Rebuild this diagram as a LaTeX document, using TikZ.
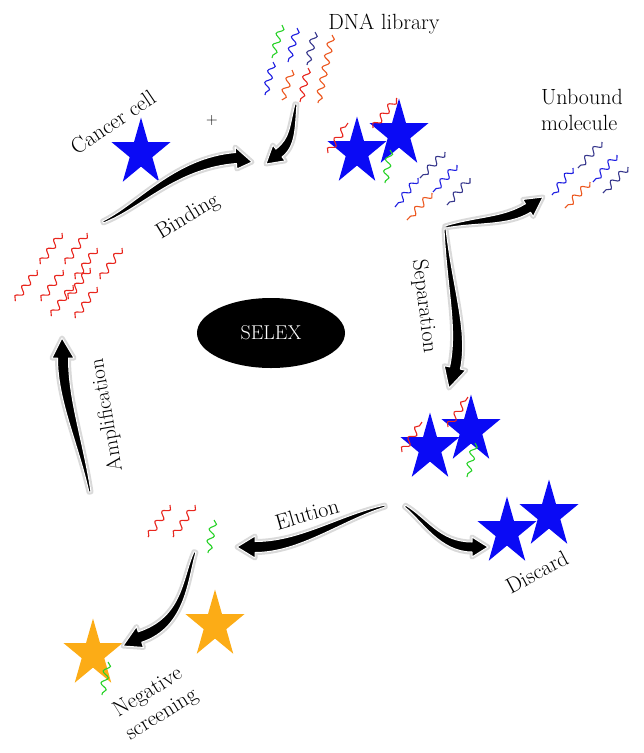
\documentclass[tikz,border=0pt]{standalone}
\usepackage{tikz}
\usetikzlibrary{calc,decorations.pathmorphing,shapes.geometric}
\definecolor{sred}{RGB}{232,38,30}
\definecolor{sorange}{RGB}{236,88,32}
\definecolor{sblue}{RGB}{30,30,225}
\definecolor{snavy}{RGB}{55,55,140}
\definecolor{sgreen}{RGB}{40,210,40}
\definecolor{cellblue}{RGB}{10,10,245}
\definecolor{cellorange}{RGB}{252,172,22}
% tapered arrow through #1-s, #1-c1, #1-c2, #1-e, #1-t
% half widths: #2 tail, #3 middle, #4 end of body, #5 head
\newcommand{\taper}[5]{%
  \path[fat] ($(#1-s)!#2!90:(#1-c1)$) .. controls ($(#1-c1)!#3!90:(#1-c2)$) and ($(#1-c2)!#4!90:(#1-e)$) .. ($(#1-e)!#4!-90:(#1-c2)$)
    -- ($(#1-e)!#5!-90:(#1-c2)$) -- (#1-t) -- ($(#1-e)!#5!90:(#1-c2)$) -- ($(#1-e)!#4!90:(#1-c2)$)
    .. controls ($(#1-c2)!#4!-90:(#1-e)$) and ($(#1-c1)!#3!-90:(#1-c2)$) .. ($(#1-s)!#2!-90:(#1-c1)$) -- cycle;}

\begin{document}
\begin{tikzpicture}[x=1pt,y=-1pt]
    \tikzstyle{txt}=[font=\fontsize{22}{26}\selectfont, align=center, inner sep=0pt]
    \tikzstyle{cell}=[star, star points=5, star point ratio=2.618, minimum size=71pt, inner sep=0pt, xscale=0.875]
    \tikzstyle{strand}=[line width=1.1pt, decorate, decoration={snake, amplitude=3.2pt, segment length=12pt}]
    \tikzstyle{fat}=[fill=black, draw=white, line width=1pt, line join=round, preaction={draw=black!15, line width=5pt, line join=round}]

    \useasboundingbox (0,0) rectangle (644,753);

    \node[ellipse, fill=black, minimum width=148pt, minimum height=70pt, text=white, font=\fontsize{20}{24}\selectfont] (selex) at (271,333) {SELEX};

    % labels
    \node[txt] (libl) at (384,24) {DNA library};
    \node[txt, rotate=34] (cancl) at (113,122) {Cancer cell};
    \node[txt, font=\fontsize{16}{18}\selectfont] (plus) at (212,121) {+};
    \node[txt, rotate=31] (bindl) at (188,217) {Binding};
    \node[txt, align=left] (unbl) at (582,110) {Unbound\\molecule};
    \node[txt, rotate=-83] (sepl) at (424,306) {Separation};
    \node[txt, rotate=100, font=\fontsize{21}{25}\selectfont] (ampl) at (107,415) {Amplification};
    \node[txt, rotate=16] (elul) at (307,514) {Elution};
    \node[txt, rotate=28] (discl) at (537,572) {Discard};
    \node[txt, rotate=32] (negl) at (155,704) {Negative\\screening};

    % cells
    \node[cell, fill=cellblue] (canc) at (141,153) {};
    \node[cell, fill=cellblue] (lib1) at (357,152) {};
    \node[cell, fill=cellblue] (lib2) at (399,134) {};
    \node[cell, fill=cellblue] (sep1) at (430,448) {};
    \node[cell, fill=cellblue] (sep2) at (471,430) {};
    \node[cell, fill=cellblue] (disc1) at (507,532) {};
    \node[cell, fill=cellblue] (disc2) at (549,515) {};
    \node[cell, fill=cellorange] (neg1) at (93,654) {};
    \node[cell, fill=cellorange] (neg2) at (215,625) {};

    % library
    \draw[strand, sgreen] (282,25) -- (272,58);
    \draw[strand, sblue] (297,28) -- (288,62);
    \draw[strand, snavy] (315,32) -- (307,65);
    \draw[strand, sorange] (332,35) -- (318,103);
    \draw[strand, sblue] (273,62) -- (265,95);
    \draw[strand, sorange] (292,70) -- (282,100);
    \draw[strand, sred] (308,68) -- (300,102);

    % bound and unbound after binding
    \draw[strand, sred] (328,153) -- (348,123);
    \draw[strand, sred] (373,128) -- (397,98);
    \draw[strand, sgreen] (390,150) -- (385,183);
    \draw[strand, snavy] (445,152) -- (420,178);
    \draw[strand, sblue] (418,178) -- (395,207);
    \draw[strand, sblue] (457,165) -- (433,192);
    \draw[strand, snavy] (470,178) -- (447,205);
    \draw[strand, sorange] (432,193) -- (407,220);

    \draw[strand, snavy] (602,142) -- (578,168);
    \draw[strand, sblue] (573,168) -- (552,195);
    \draw[strand, sblue] (617,155) -- (593,182);
    \draw[strand, snavy] (628,167) -- (603,193);
    \draw[strand, sorange] (590,182) -- (565,208);

    \draw[strand, sred] (402,452) -- (422,422);
    \draw[strand, sred] (448,427) -- (468,397);
    \draw[strand, sgreen] (475,443) -- (467,477);

    % eluted and amplified
    \draw[strand, sred] (170,505) -- (148,537);
    \draw[strand, sred] (195,505) -- (173,537);
    \draw[strand, sgreen] (214,520) -- (208,553);
    \draw[strand, sgreen] (108,662) -- (102,695);

    \foreach \x/\y in {62/233, 87/233, 97/248, 122/248, 37/270, 63/270, 90/268, 73/285, 97/287}
        \draw[strand, sred] (\x,\y) -- ++(-22,31);

    % arrows
    \coordinate (bind-s) at (103,222); \coordinate (bind-c1) at (140,206);
    \coordinate (bind-c2) at (175,163); \coordinate (bind-e) at (236,158);
    \coordinate (bind-t) at (252,162);
    \taper{bind}{1pt}{3pt}{5.5pt}{11pt}

    \coordinate (lib-s) at (296,104); \coordinate (lib-c1) at (292,128);
    \coordinate (lib-c2) at (293,142); \coordinate (lib-e) at (279,153);
    \coordinate (lib-t) at (266,164);
    \taper{lib}{1pt}{3pt}{5pt}{10pt}

    \coordinate (unb-s) at (445,227); \coordinate (unb-c1) at (478,219);
    \coordinate (unb-c2) at (505,222); \coordinate (unb-e) at (528,208);
    \coordinate (unb-t) at (543,197);
    \taper{unb}{1pt}{3pt}{5pt}{10pt}

    \coordinate (sep-s) at (445,229); \coordinate (sep-c1) at (450,290);
    \coordinate (sep-c2) at (463,330); \coordinate (sep-e) at (455,368);
    \coordinate (sep-t) at (449,388);
    \taper{sep}{1pt}{3pt}{5.5pt}{11pt}

    \coordinate (elu-s) at (385,506); \coordinate (elu-c1) at (340,518);
    \coordinate (elu-c2) at (300,547); \coordinate (elu-e) at (255,547);
    \coordinate (elu-t) at (237,547);
    \taper{elu}{1pt}{3pt}{5.5pt}{11pt}

    \coordinate (disc-s) at (405,506); \coordinate (disc-c1) at (425,520);
    \coordinate (disc-c2) at (440,547); \coordinate (disc-e) at (472,547);
    \coordinate (disc-t) at (488,547);
    \taper{disc}{1pt}{3pt}{5pt}{10pt}

    \coordinate (neg-s) at (195,552); \coordinate (neg-c1) at (185,578);
    \coordinate (neg-c2) at (185,622); \coordinate (neg-e) at (140,637);
    \coordinate (neg-t) at (123,646);
    \taper{neg}{1pt}{3pt}{5.5pt}{11pt}

    \coordinate (amp-s) at (90,492); \coordinate (amp-c1) at (80,440);
    \coordinate (amp-c2) at (63,400); \coordinate (amp-e) at (63,358);
    \coordinate (amp-t) at (62,338);
    \taper{amp}{1pt}{3pt}{5.5pt}{11pt}
\end{tikzpicture}
\end{document}
